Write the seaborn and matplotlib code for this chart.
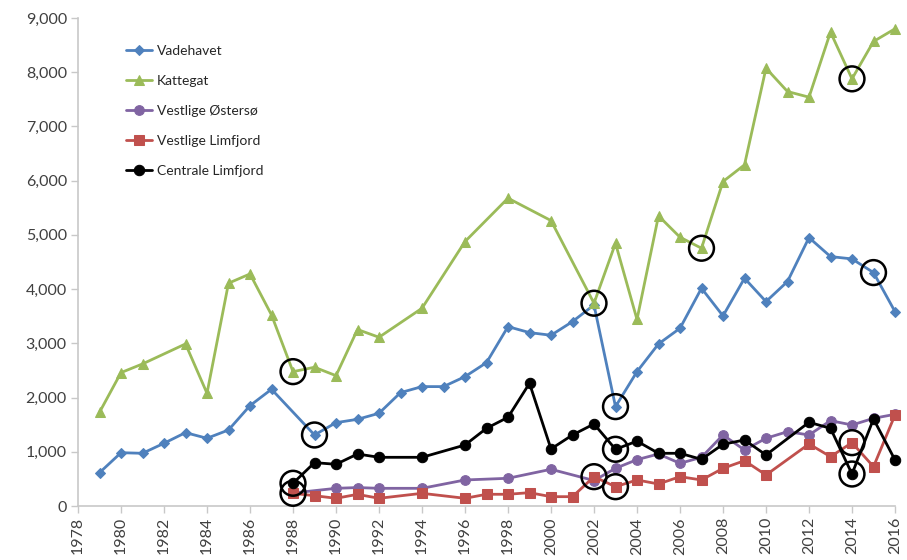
import matplotlib
matplotlib.use("Agg")
import matplotlib.pyplot as plt
import pandas as pd
import seaborn as sns

# Annual counts per area
vade_years = [1979, 1980, 1981, 1982, 1983, 1984, 1985, 1986, 1987, 1989, 1990, 1991,
              1992, 1993, 1994, 1995, 1996, 1997, 1998, 1999, 2000, 2001, 2002, 2003,
              2004, 2005, 2006, 2007, 2008, 2009, 2010, 2011, 2012, 2013, 2014, 2015, 2016]
vade_values = [614, 983, 972, 1157, 1353, 1249, 1402, 1851, 2153, 1310, 1537, 1599,
               1710, 2091, 2202, 2202, 2386, 2644, 3308, 3198, 3149, 3401, 3708, 1833,
               2478, 2989, 3278, 4016, 3506, 4200, 3770, 4140, 4950, 4600, 4557, 4305, 3585]

katt_years = [1979, 1980, 1981, 1983, 1984, 1985, 1986, 1987, 1988, 1989, 1990, 1991,
              1992, 1994, 1996, 1998, 2000, 2002, 2003, 2004, 2005, 2006, 2007, 2008,
              2009, 2010, 2011, 2012, 2013, 2014, 2015, 2016]
katt_values = [1728, 2460, 2620, 2989, 2079, 4109, 4280, 3524, 2478, 2559, 2404, 3255,
               3112, 3647, 4877, 5677, 5264, 3740, 4846, 3440, 5351, 4957, 4754, 5984,
               6292, 8075, 7644, 7540, 8740, 7878, 8567, 8801]

oster_years = [1988, 1990, 1991, 1992, 1994, 1996, 1998, 2000, 2002, 2003, 2004, 2005,
               2006, 2007, 2008, 2009, 2010, 2011, 2012, 2013, 2014, 2015, 2016]
oster_values = [240, 326, 340, 326, 326, 480, 511, 677, 470, 695, 855, 959,
                787, 898, 1310, 1033, 1249, 1371, 1310, 1574, 1494, 1617, 1691]

vlim_years = [1988, 1989, 1990, 1991, 1992, 1994, 1996, 1997, 1998, 1999, 2000, 2001,
              2002, 2003, 2004, 2005, 2006, 2007, 2008, 2009, 2010, 2012, 2013, 2014,
              2015, 2016]
vlim_values = [234, 190, 142, 215, 142, 234, 142, 216, 216, 246, 172, 172,
               541, 356, 480, 406, 541, 480, 695, 836, 572, 1144, 910, 1168,
               725, 1679]

clim_years = [1988, 1989, 1990, 1991, 1992, 1994, 1996, 1997, 1998, 1999, 2000, 2001,
              2002, 2003, 2004, 2005, 2006, 2007, 2008, 2009, 2010, 2012, 2013, 2014,
              2015, 2016]
clim_values = [419, 800, 769, 959, 898, 898, 1125, 1433, 1636, 2263, 1052, 1310,
               1513, 1046, 1196, 972, 972, 861, 1138, 1218, 941, 1544, 1433, 590,
               1605, 849]

# Years highlighted with an open ring, per series
katt_ringed = [1988, 2002, 2007, 2014]
vade_ringed = [1989, 2003, 2015]
clim_ringed = [1988, 2003, 2014]
vlim_ringed = [1988, 2002, 2003, 2014]

series = [
    ("Vadehavet", vade_years, vade_values, "#4F81BD", "D", 5.5, vade_ringed),
    ("Kattegat", katt_years, katt_values, "#9BBB59", "^", 7.5, katt_ringed),
    ("Vestlige Østersø", oster_years, oster_values, "#8064A2", "o", 7, []),
    ("Vestlige Limfjord", vlim_years, vlim_values, "#C0504D", "s", 7, vlim_ringed),
    ("Centrale Limfjord", clim_years, clim_values, "#000000", "o", 7.5, clim_ringed),
]

sns.set_theme(style="white")
plt.rcParams["font.family"] = ["Lato", "DejaVu Sans"]

fig = plt.figure(figsize=(9.07, 5.6), dpi=100)
ax = fig.add_axes([78 / 907, 54 / 560, (895 - 78) / 907, (506 - 18) / 560])

ring_rows = []
for name, yrs, vals, color, marker, msize, ringed in series:
    df = pd.DataFrame({"year": yrs, "value": vals})
    sns.lineplot(data=df, x="year", y="value", ax=ax, color=color, marker=marker,
                 markersize=msize, markeredgecolor=color, linewidth=2.0,
                 label=name, clip_on=False)
    lookup = dict(zip(yrs, vals))
    for y in ringed:
        ring_rows.append({"year": y, "value": lookup[y]})

rings = pd.DataFrame(ring_rows)
sns.scatterplot(data=rings, x="year", y="value", ax=ax, s=320, facecolor="none",
                edgecolor="black", linewidth=1.8, zorder=5, clip_on=False, legend=False)

ax.set_xlim(1978, 2016)
ax.set_ylim(0, 9000)
ax.set_xticks(range(1978, 2017, 2))
ax.set_xticklabels([str(y) for y in range(1978, 2017, 2)], rotation=90)
ax.set_yticks(range(0, 9001, 1000))
ax.set_yticklabels([f"{v:,}" for v in range(0, 9001, 1000)])
ax.set_xlabel("")
ax.set_ylabel("")

for side in ("top", "right"):
    ax.spines[side].set_visible(False)
for side in ("left", "bottom"):
    ax.spines[side].set_color("#c8c8c8")
    ax.spines[side].set_linewidth(1.2)

ax.tick_params(axis="both", which="major", length=5, width=1, color="#c8c8c8",
               labelsize=11.5, labelcolor="#404040", direction="out",
               left=True, bottom=True, pad=3)

leg = ax.legend(loc="upper left", bbox_to_anchor=(0.052, 0.956), frameon=False,
                fontsize=10, handlelength=1.9, handletextpad=0.3,
                labelspacing=1.3, borderaxespad=0)
for t in leg.get_texts():
    t.set_color("#262626")

fig.savefig("out.png", dpi=100)
